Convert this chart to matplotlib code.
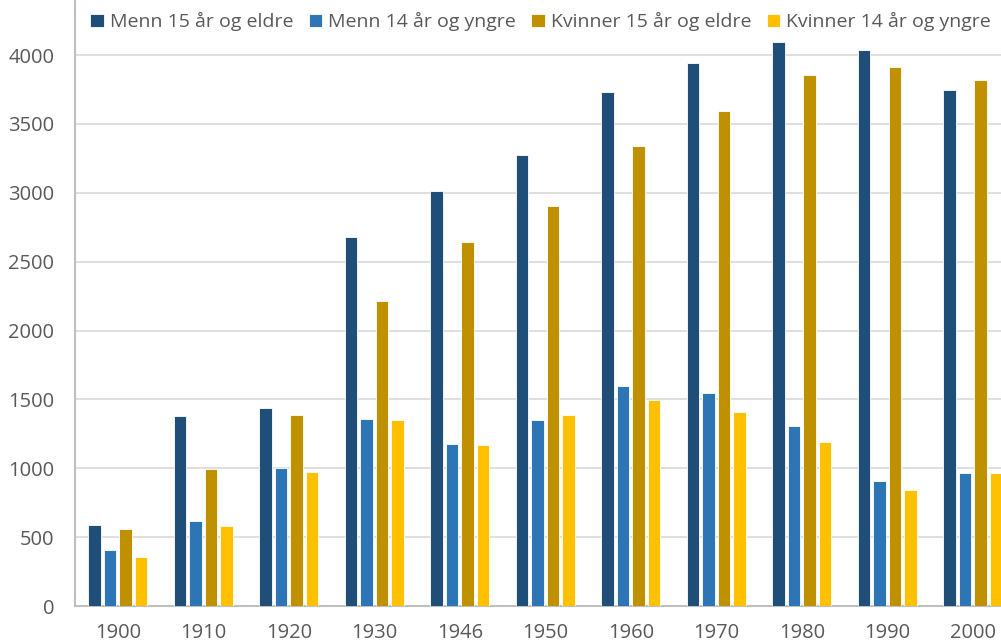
import matplotlib
matplotlib.use("Agg")
import matplotlib.pyplot as plt
import numpy as np

# data
years = ["1900", "1910", "1920", "1930", "1946", "1950", "1960", "1970", "1980", "1990", "2000"]
menn_15 = [588, 1379, 1437, 2679, 3015, 3274, 3731, 3942, 4094, 4039, 3748]
menn_14 = [404, 615, 1002, 1358, 1174, 1350, 1597, 1544, 1307, 905, 968]
kvinner_15 = [561, 994, 1384, 2212, 2642, 2904, 3339, 3593, 3855, 3913, 3816]
kvinner_14 = [356, 581, 970, 1348, 1166, 1387, 1495, 1408, 1193, 842, 968]

series_names = ["Menn 15 år og eldre", "Menn 14 år og yngre",
                "Kvinner 15 år og eldre", "Kvinner 14 år og yngre"]
colors = ["#1F4E79", "#2E75B6", "#BF9000", "#FFC000"]

plt.rcParams['font.family'] = ['Open Sans', 'DejaVu Sans']

fig = plt.figure(figsize=(10.01, 6.44), dpi=100)
ax = fig.add_axes([75 / 1001, 38 / 644, 940.5 / 1001, 606 / 644])

x = np.arange(len(years))
slot = 0.181
width = 0.145
all_series = [menn_15, menn_14, kvinner_15, kvinner_14]
for i, (vals, name, col) in enumerate(zip(all_series, series_names, colors)):
    ax.bar(x + (i - 1.5) * slot, vals, width, color=col, label=name,
           edgecolor="white", linewidth=0.6, zorder=3)

ax.set_xlim(-0.5, len(years) - 0.5)
ax.set_ylim(0, 4400)
ax.set_yticks(np.arange(0, 4001, 500))
ax.set_xticks(x)
ax.set_xticklabels(years)
ax.yaxis.grid(True, color="#D9D9D9", linewidth=1.2, zorder=0)
ax.set_axisbelow(True)

for side in ["top", "right"]:
    ax.spines[side].set_visible(False)
for side in ["left", "bottom"]:
    ax.spines[side].set_color("#BFBFBF")
    ax.spines[side].set_linewidth(1.5)

ax.tick_params(axis="both", length=0, labelsize=14.5, labelcolor="#595959")
ax.tick_params(axis="x", pad=12)
ax.tick_params(axis="y", pad=15)

fig.legend(loc="upper center", bbox_to_anchor=(0.54, 1.008), ncol=4, frameon=False,
           fontsize=14, handlelength=0.7, handleheight=0.7, handletextpad=0.3,
           columnspacing=0.8, labelcolor="#595959")

fig.savefig("out.png", dpi=100)
